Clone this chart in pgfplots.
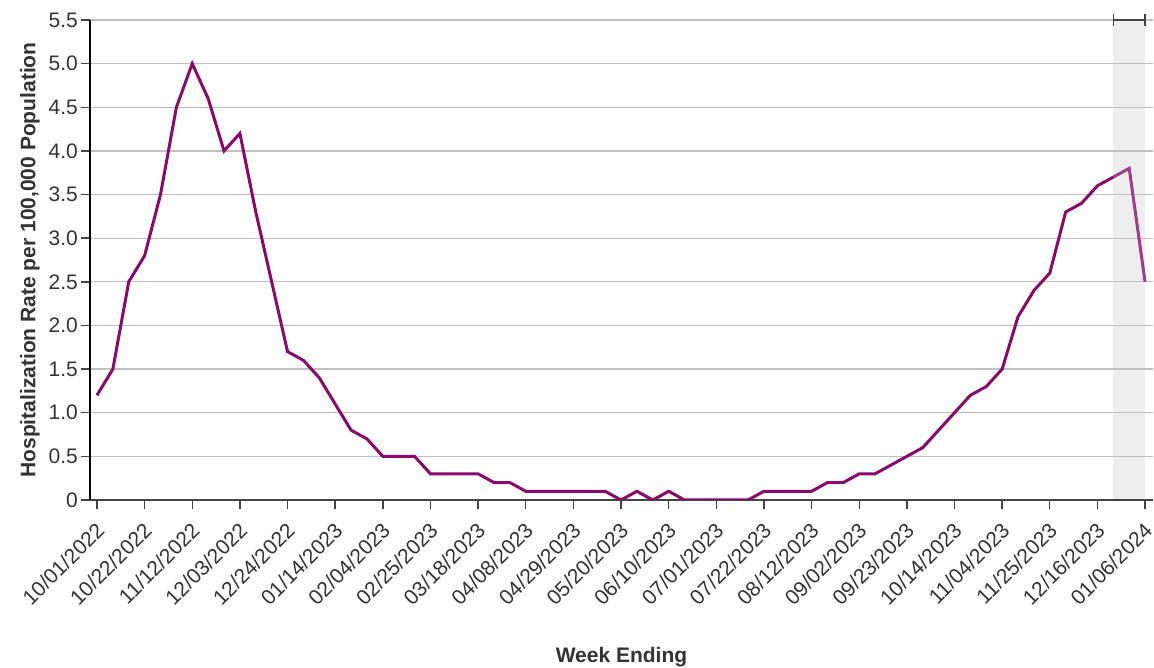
\documentclass[border=0pt]{standalone}
\usepackage{fontspec}
\setmainfont{Liberation Sans}
\usepackage{pgfplots}
\pgfplotsset{compat=1.18}
\pgfplotsset{set layers}
\definecolor{rsv}{RGB}{138,10,108}
\definecolor{txt}{RGB}{51,51,51}
\definecolor{gridc}{RGB}{192,192,192}
\definecolor{shade}{RGB}{238,238,238}
\definecolor{tickc}{RGB}{68,68,68}

\begin{document}
\begin{tikzpicture}
\begin{axis}[
  at={(90pt,168pt)}, anchor=south west,
  scale only axis, width=1063pt, height=480pt,
  xmin=-0.44, xmax=66.5, ymin=0, ymax=5.5,
  axis x line*=bottom, axis y line*=left,
  x axis line style={color=tickc, line width=1.6pt},
  y axis line style={color=black, line width=1.6pt},
  xtick={0,3,...,66},
  xticklabels={10/01/2022,10/22/2022,11/12/2022,12/03/2022,12/24/2022,01/14/2023,02/04/2023,02/25/2023,03/18/2023,04/08/2023,04/29/2023,05/20/2023,06/10/2023,07/01/2023,07/22/2023,08/12/2023,09/02/2023,09/23/2023,10/14/2023,11/04/2023,11/25/2023,12/16/2023,01/06/2024},
  ytick={0,0.5,1,1.5,2,2.5,3,3.5,4,4.5,5,5.5},
  yticklabels={0,0.5,1.0,1.5,2.0,2.5,3.0,3.5,4.0,4.5,5.0,5.5},
  ymajorgrids, grid style={color=gridc, line width=1.3pt},
  tick style={color=tickc, line width=1.4pt},
  major tick length=9pt, tick align=outside,
  xticklabel style={rotate=45, anchor=north east, inner sep=2pt, xshift=-8pt, yshift=-5pt, font=\fontsize{21}{25}\selectfont, text=txt},
  yticklabel style={font=\fontsize{21}{25}\selectfont, text=txt, inner sep=3pt},
  xlabel={Week Ending},
  ylabel={Hospitalization Rate per 100,000 Population},
  label style={font=\bfseries\fontsize{21}{25}\selectfont, text=txt},
  xlabel style={at={(axis description cs:0.5,0)}, anchor=center, yshift=-157pt},
  ylabel style={at={(axis description cs:0,0.5)}, anchor=center, yshift=60pt},
]
% preliminary weeks, shaded
\addplot[on layer=axis background, fill=shade, draw=none] coordinates {(64,0) (64,5.5) (66,5.5) (66,0)} -- cycle;
\addplot[color=tickc, line width=1.4pt, mark=|, mark size=6pt, mark options={line width=1.4pt}] coordinates {(64,5.5) (66,5.5)};

\addplot[color=rsv, line width=3pt] coordinates {
(0,1.2) (1,1.5) (2,2.5) (3,2.8) (4,3.5) (5,4.5) (6,5.0) (7,4.6) (8,4.0) (9,4.2)
(10,3.3) (11,2.5) (12,1.7) (13,1.6) (14,1.4) (15,1.1) (16,0.8) (17,0.7) (18,0.5) (19,0.5)
(20,0.5) (21,0.3) (22,0.3) (23,0.3) (24,0.3) (25,0.2) (26,0.2) (27,0.1) (28,0.1) (29,0.1)
(30,0.1) (31,0.1) (32,0.1) (33,0) (34,0.1) (35,0) (36,0.1) (37,0) (38,0) (39,0)
(40,0) (41,0) (42,0.1) (43,0.1) (44,0.1) (45,0.1) (46,0.2) (47,0.2) (48,0.3) (49,0.3)
(50,0.4) (51,0.5) (52,0.6) (53,0.8) (54,1.0) (55,1.2) (56,1.3) (57,1.5) (58,2.1) (59,2.4)
(60,2.6) (61,3.3) (62,3.4) (63,3.6) (64,3.7)
};
\addplot[color=rsv, opacity=0.78, line width=3pt] coordinates {
(64,3.7) (65,3.8) (66,2.5)
};
\end{axis}
\pgfresetboundingbox
\useasboundingbox (0pt,0pt) rectangle (1154pt,668pt);
\end{tikzpicture}
\end{document}
